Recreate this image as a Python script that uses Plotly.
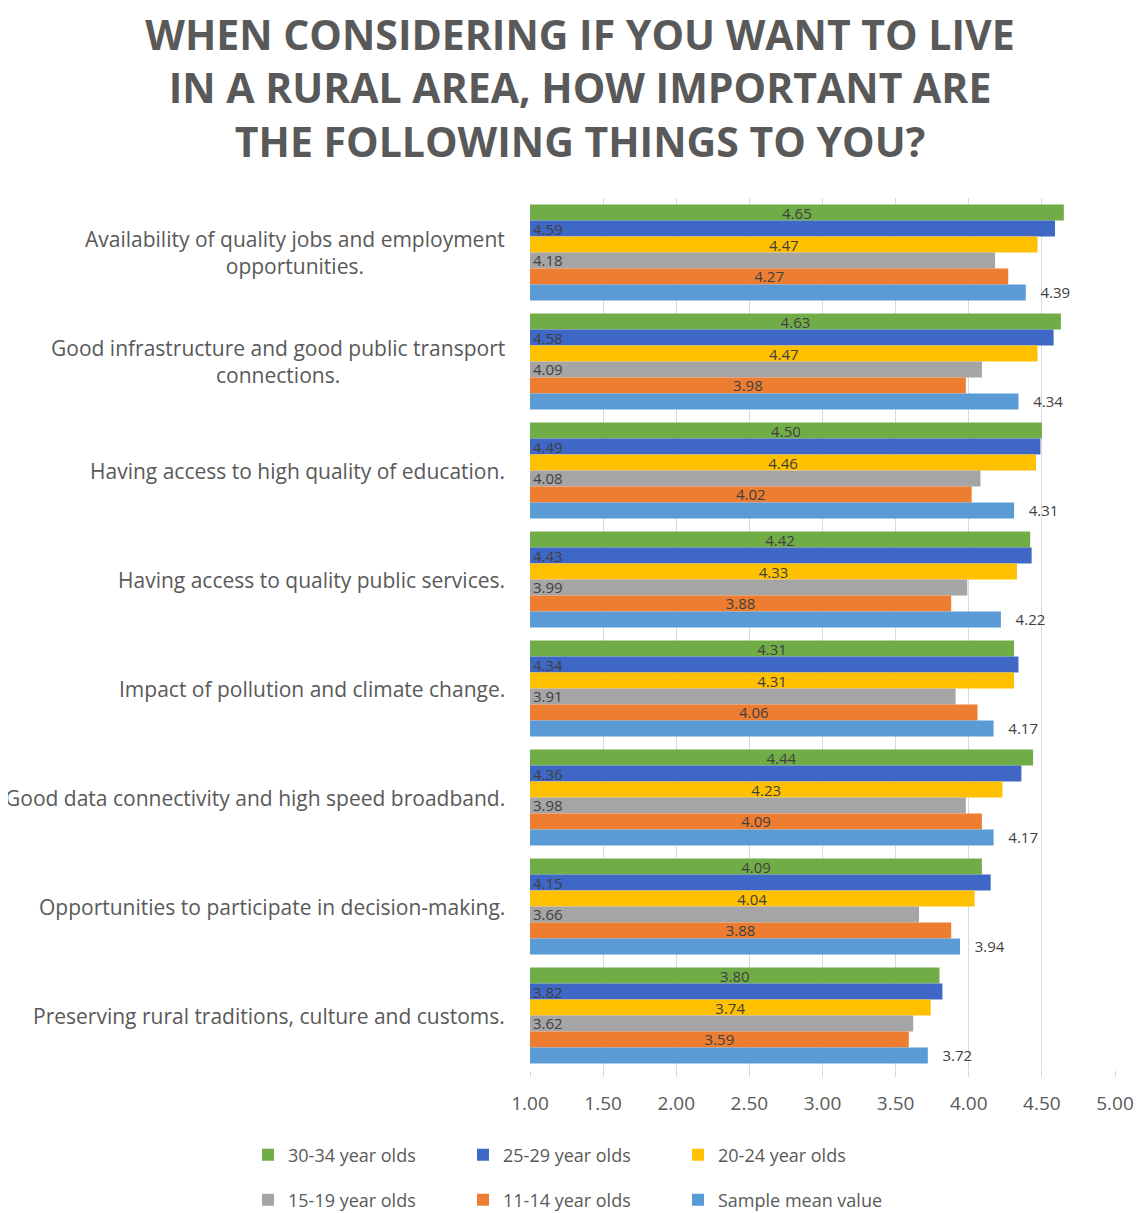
import plotly.graph_objects as go

categories = [
    "Availability of quality jobs and employment<br>opportunities.",
    "Good infrastructure and good public transport<br>connections.",
    "Having access to high quality of education.",
    "Having access to quality public services.",
    "Impact of pollution and climate change.",
    "Good data connectivity and high speed broadband.",
    "Opportunities to participate in decision-making.",
    "Preserving rural traditions, culture and customs.",
]
series_names = ["30-34 year olds", "25-29 year olds", "20-24 year olds",
                "15-19 year olds", "11-14 year olds", "Sample mean value"]
v_30_34 = [4.65, 4.63, 4.50, 4.42, 4.31, 4.44, 4.09, 3.80]
v_25_29 = [4.59, 4.58, 4.49, 4.43, 4.34, 4.36, 4.15, 3.82]
v_20_24 = [4.47, 4.47, 4.46, 4.33, 4.31, 4.23, 4.04, 3.74]
v_15_19 = [4.18, 4.09, 4.08, 3.99, 3.91, 3.98, 3.66, 3.62]
v_11_14 = [4.27, 3.98, 4.02, 3.88, 4.06, 4.09, 3.88, 3.59]
v_mean = [4.39, 4.34, 4.31, 4.22, 4.17, 4.17, 3.94, 3.72]
axis_min = 1.0
tick_vals = [1.0, 1.5, 2.0, 2.5, 3.0, 3.5, 4.0, 4.5, 5.0]

values = [v_30_34, v_25_29, v_20_24, v_15_19, v_11_14, v_mean]
colors = ["#70AD47", "#3F68C6", "#FFC000", "#A5A5A5", "#ED7D31", "#5B9BD5"]
positions = ["inside", "inside", "inside", "inside", "inside", "outside"]
anchors = ["middle", "start", "middle", "start", "middle", "end"]

W, H = 1138, 1205  # page body adds an 8px offset

# legend slots (pixel positions in figure coordinates): 2 rows x 3 columns
legend_x = [240, 455, 670, 240, 455, 670]
legend_y = [1147, 1147, 1147, 1192, 1192, 1192]
legend_ids = ["legend"] + [f"legend{i}" for i in range(2, 7)]

fig = go.Figure()
for name, vals, col, pos, anc, lg in zip(series_names, values, colors, positions, anchors, legend_ids):
    fig.add_trace(go.Bar(
        y=categories, x=[v - axis_min for v in vals], base=axis_min,
        orientation="h", name=name, showlegend=True,
        marker=dict(color=col, line=dict(width=0)),
        text=[("   " if pos == "outside" else "") + f"{v:.2f}" for v in vals],
        textposition=pos,
        insidetextanchor=anc, constraintext="none", cliponaxis=False,
        textfont=dict(family="Open Sans", size=15, color="#404040"),
        legend=lg,
    ))

for cat in categories:
    fig.add_annotation(
        x=0, xref="paper", y=cat, yref="y", xanchor="right", yanchor="middle",
        xshift=-23, text=cat, showarrow=False, align="center",
        font=dict(family="Open Sans", size=21, color="#595959"),
    )

legend_layout = {}
for lg, lx, ly in zip(legend_ids, legend_x, legend_y):
    legend_layout[lg] = dict(
        orientation="h", xref="container", yref="container",
        x=lx / W, xanchor="left", y=1 - ly / H, yanchor="middle",
        font=dict(family="Open Sans", size=18, color="#595959"),
        bgcolor="rgba(0,0,0,0)", visible=True,
    )

fig.update_layout(
    width=W, height=H, showlegend=True,
    paper_bgcolor="white", plot_bgcolor="white",
    margin=dict(l=522, r=26, t=190, b=143),
    barmode="group", bargap=0.12, bargroupgap=0,
    title=dict(
        text="WHEN CONSIDERING IF YOU WANT TO LIVE<br>IN A RURAL AREA, HOW IMPORTANT ARE<br>THE FOLLOWING THINGS TO YOU?",
        x=572 / W, xref="container", xanchor="center",
        y=1 - 42 / H, yref="container", yanchor="top",
        font=dict(family="Open Sans", size=41, color="#595959", weight="bold"),
    ),
    xaxis=dict(
        range=[1.0, 5.0], tickvals=tick_vals, ticktext=[f"{t:.2f}" for t in tick_vals],
        showgrid=True, gridcolor="#D9D9D9", gridwidth=1, zeroline=False,
        ticks="outside", ticklen=6, tickcolor="#D9D9D9", ticklabelstandoff=10,
        tickfont=dict(family="Open Sans", size=19, color="#595959"),
        showline=False,
    ),
    yaxis=dict(autorange="reversed", showticklabels=False, showgrid=False,
               showline=False, ticks=""),
    uniformtext=dict(minsize=15, mode="show"),
    **legend_layout,
)

fig.write_html("out.html")
